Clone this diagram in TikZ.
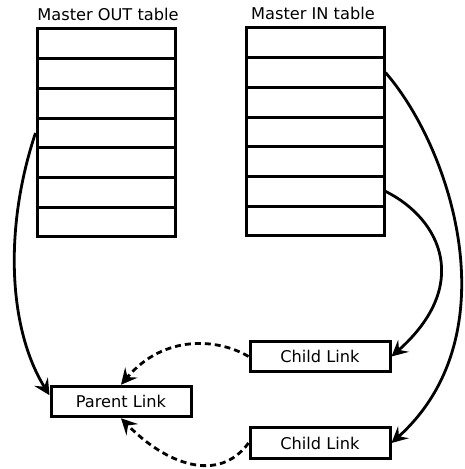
\documentclass[tikz,border=0pt]{standalone}
\usepackage{fontspec}
\setmainfont{DejaVu Sans}
\usetikzlibrary{arrows.meta}
\tikzset{
  cell/.style={draw, line width=3pt, minimum width=138pt, minimum height=29.7pt, inner sep=0pt},
  linkbox/.style={draw, line width=3pt, minimum width=140pt, minimum height=30.5pt, inner sep=0pt, font=\fontsize{16.2}{19}\selectfont},
  title/.style={font=\fontsize{16.2}{19}\selectfont, inner sep=0pt},
  conn/.style={line width=2.8pt, -{Stealth[length=16pt,width=16pt,inset=6pt]}},
  dconn/.style={conn, dash pattern=on 6pt off 4pt}
}
\begin{document}
\begin{tikzpicture}[x=1pt,y=1pt]
\useasboundingbox (0,0) rectangle (465,469);
% titles
\node[title] (tout) at (108,455) {Master OUT table};
\node[title] (tin) at (313,456) {Master IN table};
% left table
\foreach \i in {0,...,6} {
  \node[cell] (L\i) at (106,{440-29.7*(\i+0.5)}) {};
}
% right table
\foreach \i in {0,...,6} {
  \node[cell] (R\i) at (315,{441-29.7*(\i+0.5)}) {};
}
% link boxes
\node[linkbox] (C1) at (320,112.5) {Child Link};
\node[linkbox] (C2) at (320,26) {Child Link};
\node[linkbox] (P) at (121,67.5) {Parent Link};
% connectors
\draw[conn] (L3.west) .. controls +(-32,-96) and +(-41,66) .. (P.175);
\draw[conn] (R1.east) .. controls +(66,-76) and +(120,108) .. (C2.east);
\draw[conn] (R5.east) .. controls +(56,-28) and +(80,71) .. (C1.east);
\draw[dconn] (C1.west) .. controls +(-30,18) and +(43,51) .. (P.north);
\draw[dconn] (C2.west) .. controls +(-30,-41) and +(45,-46) .. (P.south);
\end{tikzpicture}
\end{document}
